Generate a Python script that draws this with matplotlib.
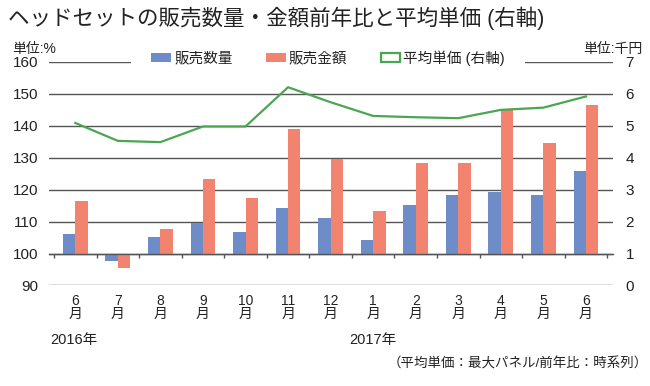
import numpy as np
import matplotlib

matplotlib.use("Agg")
import matplotlib.pyplot as plt
from matplotlib.patches import Patch

# ---- データ ----
months = ["6", "7", "8", "9", "10", "11", "12", "1", "2", "3", "4", "5", "6"]
qty_yoy = [106.1, 97.6, 105.1, 109.5, 106.7, 114.2, 111.0, 104.2, 115.1, 118.2, 119.2, 118.2, 126.0]
amt_yoy = [116.4, 95.4, 107.6, 123.2, 117.4, 138.9, 129.5, 113.2, 128.5, 128.5, 145.0, 134.5, 146.4]
avg_price = [5.09, 4.53, 4.49, 4.98, 4.98, 6.21, 5.74, 5.31, 5.27, 5.24, 5.50, 5.57, 5.92]
left_ticks = [90, 100, 110, 120, 130, 140, 150, 160]
right_ticks = [0, 1, 2, 3, 4, 5, 6, 7]

C_QTY = "#6d8cc8"
C_AMT = "#f2846f"
C_AVG = "#4aa651"
C_GRID = "#555555"

plt.rcParams.update({
    "font.family": ["Liberation Sans", "Noto Sans CJK JP", "DejaVu Sans"],
    "text.color": "#222222",
    "xtick.color": "#222222",
    "ytick.color": "#222222",
})

fig = plt.figure(figsize=(6.5, 3.86), dpi=100)
ax = fig.add_axes([0.0754, 0.2604, 0.868, 0.5790])
ax2 = ax.twinx()

x = np.arange(len(months))
w = 0.29
ax.bar(x - w / 2, np.array(qty_yoy) - 100, w, bottom=100, color=C_QTY, zorder=2)
ax.bar(x + w / 2, np.array(amt_yoy) - 100, w, bottom=100, color=C_AMT, zorder=2)
ax2.plot(x, avg_price, color=C_AVG, lw=1.6)

ax.set_ylim(90, 160)
ax2.set_ylim(0, 7)
ax.set_xlim(-0.5 - 5 / 42.56, len(months) - 0.5 + 6 / 42.56)

ax.set_yticks(left_ticks)
ax2.set_yticks(right_ticks)
ax.tick_params(axis="y", length=0, pad=8, labelsize=11)
ax2.tick_params(axis="y", length=0, pad=9, labelsize=11)
ax.yaxis.grid(True, color=C_GRID, lw=1.0, zorder=0)
ax.set_axisbelow(True)

for a in (ax, ax2):
    for s in ("top", "left", "right"):
        a.spines[s].set_visible(False)
ax2.spines["bottom"].set_visible(False)
ax.spines["bottom"].set_position(("data", 100))
ax.spines["bottom"].set_color(C_GRID)
ax.spines["bottom"].set_linewidth(1.0)

# 区切り目盛（100の線上）とカテゴリラベル
ax.set_xticks(np.arange(-0.5, len(months)), labels=[])
ax.set_xticks(x, labels=[m + "\n月" for m in months], minor=True)
ax.tick_params(axis="x", which="major", length=3, width=1.0, color=C_GRID, direction="out")
ax.tick_params(axis="x", which="minor", length=0, pad=29, labelsize=10)
for t in ax.get_xticklabels(minor=True):
    t.set_linespacing(0.95)

# 凡例
handles = [
    Patch(facecolor=C_QTY, edgecolor="none"),
    Patch(facecolor=C_AMT, edgecolor="none"),
    Patch(facecolor="white", edgecolor=C_AVG, linewidth=1.6),
]
leg = ax.legend(handles, ["販売数量", "販売金額", "平均単価 (右軸)"],
                loc="center", bbox_to_anchor=(0.505, 0.85), bbox_transform=fig.transFigure,
                ncol=3, fontsize=10.5, frameon=True, framealpha=1, facecolor="white",
                edgecolor="none", fancybox=False, borderpad=1.4,
                handlelength=1.35, handleheight=0.5, handletextpad=0.2, columnspacing=2.3)

# テキスト
fig.text(0.012, 0.953, "ヘッドセットの販売数量・金額前年比と平均単価 (右軸)",
         fontsize=15.5, va="center", ha="left")
fig.text(0.0185, 0.873, "単位:%", fontsize=10, va="center", ha="left")
fig.text(0.989, 0.873, "単位:千円", fontsize=10, va="center", ha="right")
fig.text(0.077, 0.119, "2016年", fontsize=10.5, va="center", ha="left")
fig.text(0.537, 0.119, "2017年", fontsize=10.5, va="center", ha="left")
fig.text(0.997, 0.057, "（平均単価：最大パネル/前年比：時系列）",
         fontsize=9.7, va="center", ha="right")

fig.savefig("out.png", dpi=100)
